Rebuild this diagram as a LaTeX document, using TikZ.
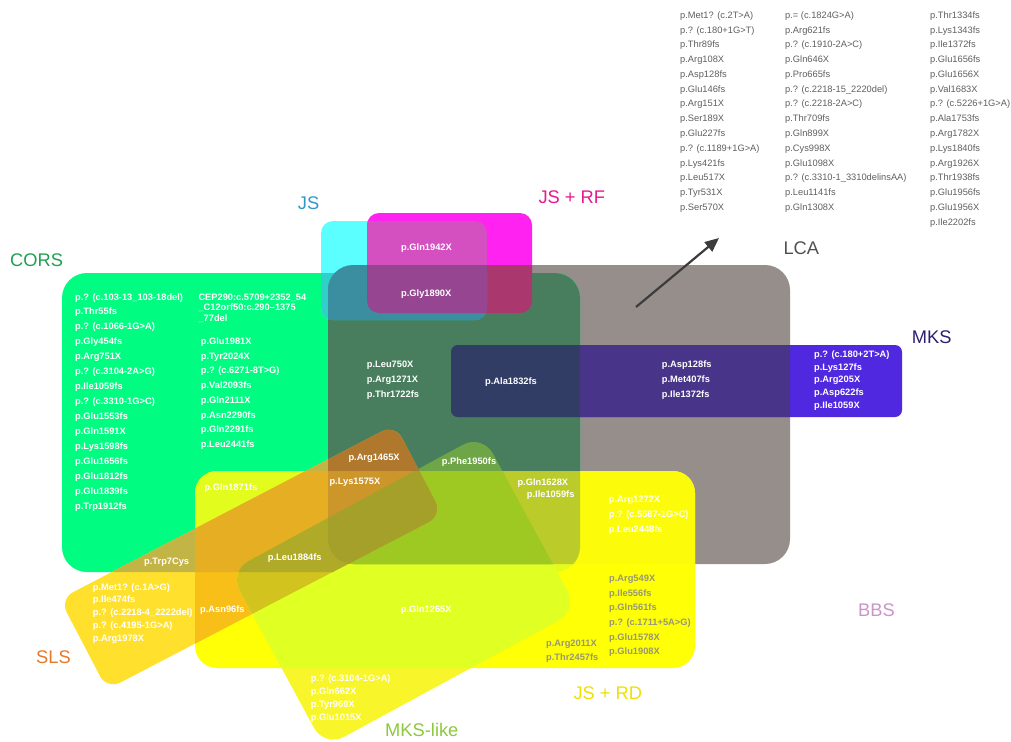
\documentclass[tikz,border=0pt]{standalone}
\usepackage{fontspec}
\setmainfont{Liberation Sans}
\usetikzlibrary{arrows.meta}
\definecolor{cG}{HTML}{00FC80}
\definecolor{cL}{HTML}{968E8B}
\definecolor{cGL}{HTML}{487E5E}
\definecolor{cC}{HTML}{5CFFFF}
\definecolor{cM}{HTML}{FF22F0}
\definecolor{cCM}{HTML}{D450C0}
\definecolor{cCG}{HTML}{30D0C8}
\definecolor{cCGL}{HTML}{3A8EA0}
\definecolor{cMGL}{HTML}{AA376E}
\definecolor{cCMGL}{HTML}{964691}
\definecolor{cK}{HTML}{5028E0}
\definecolor{cKL}{HTML}{483488}
\definecolor{cKGL}{HTML}{323D66}
\definecolor{cY}{HTML}{FFFF05}
\definecolor{cYG}{HTML}{E2FC1E}
\definecolor{cYL}{HTML}{FCFC0A}
\definecolor{cYGL}{HTML}{BACB2A}
\definecolor{cS}{HTML}{FFE12D}
\definecolor{cSG}{HTML}{C3B446}
\definecolor{cSY}{HTML}{F7BF18}
\definecolor{cSYG}{HTML}{E6AF23}
\definecolor{cSGL}{HTML}{AF782D}
\definecolor{cSYGL}{HTML}{CD962A}
\definecolor{cW}{HTML}{F8F52A}
\definecolor{cWY}{HTML}{E0FF22}
\definecolor{cWGL}{HTML}{6EA546}
\definecolor{cWYGL}{HTML}{9EC822}
\definecolor{cSWY}{HTML}{D2C31E}
\definecolor{cSWYG}{HTML}{AFAA28}
\definecolor{cSWYGL}{HTML}{A5A02A}
\definecolor{cTxt}{HTML}{5E5E5E}
\definecolor{cYTxt}{HTML}{96967A}
\definecolor{cArrow}{HTML}{3C3C3C}
\definecolor{labCORS}{HTML}{1EA050}
\definecolor{labJS}{HTML}{3296C8}
\definecolor{labJSRF}{HTML}{E6198C}
\definecolor{labLCA}{HTML}{505050}
\definecolor{labMKS}{HTML}{2A2070}
\definecolor{labBBS}{HTML}{C896C8}
\definecolor{labSLS}{HTML}{E67828}
\definecolor{labJSRD}{HTML}{F0E000}
\definecolor{labMKSL}{HTML}{8CC83C}
\def\pathG{[rounded corners=25pt] (62,273) rectangle (580,572)}
\def\pathL{[rounded corners=25pt] (328,265) rectangle (790,564)}
\def\pathC{[rounded corners=12pt] (321,221) rectangle (487,320)}
\def\pathM{[rounded corners=12pt] (367,213) rectangle (532,313)}
\def\pathK{[rounded corners=7pt] (451,345) rectangle (902,417)}
\def\pathY{[rounded corners=22pt] (195,471) rectangle (695,668)}
\def\pathS{[rounded corners=15pt] (395.0,424.5) -- (442.2,514.9) -- (107.0,689.5) -- (59.8,599.1) -- cycle}
\def\pathW{[rounded corners=22pt] (482.4,434.2) -- (577.8,610.0) -- (324.6,747.4) -- (229.2,571.5) -- cycle}
\newcommand\rgnB[3]{\begin{scope}\clip #2;\fill[#1] #3;\end{scope}}
\newcommand\rgnC[4]{\begin{scope}\clip #2;\clip #3;\fill[#1] #4;\end{scope}}
\newcommand\rgnD[5]{\begin{scope}\clip #2;\clip #3;\clip #4;\fill[#1] #5;\end{scope}}
\tikzset{
  wt/.style={anchor=base west, inner sep=0pt, text=white, font=\bfseries\fontsize{9.3}{11}\selectfont},
  gt/.style={anchor=base west, inner sep=0pt, text=cTxt, font=\fontsize{9.3}{11}\selectfont},
  yt/.style={anchor=base west, inner sep=0pt, text=cYTxt, font=\bfseries\fontsize{9.3}{11}\selectfont},
  lab/.style={anchor=base west, inner sep=0pt, font=\fontsize{18.3}{20}\selectfont},
}
\begin{document}
\begin{tikzpicture}[x=1pt,y=-1pt]
\useasboundingbox (0,0) rectangle (1011,741);
% base shapes
\fill[cL] \pathL; \fill[cG] \pathG; \fill[cC] \pathC; \fill[cM] \pathM;
\fill[cK] \pathK; \fill[cY] \pathY; \fill[cS] \pathS; \fill[cW] \pathW;
% two-fold overlaps
\rgnB{cGL}{\pathG}{\pathL}
\rgnB{cCG}{\pathG}{\pathC}
\rgnB{cCGL}{\pathL}{\pathC}
\rgnB{cCM}{\pathC}{\pathM}
\rgnB{cMGL}{\pathL}{\pathM}
\rgnB{cKL}{\pathL}{\pathK}
\rgnB{cYG}{\pathG}{\pathY}
\rgnB{cYL}{\pathL}{\pathY}
\rgnB{cSG}{\pathG}{\pathS}
\rgnB{cSY}{\pathY}{\pathS}
\rgnB{cWY}{\pathY}{\pathW}
\rgnB{cWGL}{\pathL}{\pathW}
% three-fold overlaps
\rgnC{cCGL}{\pathG}{\pathL}{\pathC}
\rgnC{cCMGL}{\pathL}{\pathC}{\pathM}
\rgnC{cKGL}{\pathG}{\pathL}{\pathK}
\rgnC{cYGL}{\pathG}{\pathL}{\pathY}
\rgnC{cSYG}{\pathG}{\pathY}{\pathS}
\rgnC{cSGL}{\pathG}{\pathL}{\pathS}
\rgnC{cWYGL}{\pathL}{\pathY}{\pathW}
\rgnC{cSWY}{\pathS}{\pathY}{\pathW}
% four/five-fold overlaps
\rgnD{cSYGL}{\pathG}{\pathL}{\pathY}{\pathS}
\rgnD{cSWYG}{\pathG}{\pathS}{\pathY}{\pathW}
\rgnD{cSWYGL}{\pathL}{\pathS}{\pathY}{\pathW}

% set labels
\node[lab, text=labCORS] (lCORS) at (10,266.4) {CORS};
\node[lab, text=labJS] (lJS) at (297.7,209.1) {JS};
\node[lab, text=labJSRF] (lJSRF) at (538.3,203.7) {JS + RF};
\node[lab, text=labLCA] (lLCA) at (783.3,254.7) {LCA};
\node[lab, text=labMKS] (lMKS) at (911.7,343.1) {MKS};
\node[lab, text=labBBS] (lBBS) at (858,616.4) {BBS};
\node[lab, text=labSLS] (lSLS) at (36,663.7) {SLS};
\node[lab, text=labJSRD] (lJSRD) at (573.3,699.7) {JS + RD};
\node[lab, text=labMKSL] (lMKSL) at (385,736.4) {MKS-like};

% top-right lists
\foreach \t [count=\i from 0] in {p.Met1? (c.2T>A), p.? (c.180+1G>T), p.Thr89fs, p.Arg108X, p.Asp128fs, p.Glu146fs, p.Arg151X, p.Ser189X, p.Glu227fs, p.? (c.1189+1G>A), p.Lys421fs, p.Leu517X, p.Tyr531X, p.Ser570X}
  \node[gt] (ta\i) at (680,18.3+\i*14.77) {\t};
\foreach \t [count=\i from 0] in {p.= (c.1824G>A), p.Arg621fs, p.? (c.1910-2A>C), p.Gln646X, p.Pro665fs, p.? (c.2218-15\_2220del), p.? (c.2218-2A>C), p.Thr709fs, p.Gln899X, p.Cys998X, p.Glu1098X, p.? (c.3310-1\_3310delinsAA), p.Leu1141fs, p.Gln1308X}
  \node[gt] (tb\i) at (785,18.3+\i*14.77) {\t};
\foreach \t [count=\i from 0] in {p.Thr1334fs, p.Lys1343fs, p.Ile1372fs, p.Glu1656fs, p.Glu1656X, p.Val1683X, p.? (c.5226+1G>A), p.Ala1753fs, p.Arg1782X, p.Lys1840fs, p.Arg1926X, p.Thr1938fs, p.Glu1956fs, p.Glu1956X, p.Ile2202fs}
  \node[gt] (tc\i) at (930,18.3+\i*14.77) {\t};

% arrow towards the LCA list
\coordinate (arrS) at (636,307);
\coordinate (arrE) at (719,238);
\draw[cArrow, line width=2.2pt, -{Triangle[length=14pt,width=12pt]}] (arrS) -- (arrE);

% CORS
\foreach \t [count=\i from 0] in {p.? (c.103-13\_103-18del), p.Thr55fs, p.? (c.1066-1G>A), p.Gly454fs, p.Arg751X, p.? (c.3104-2A>G), p.Ile1059fs, p.? (c.3310-1G>C), p.Glu1553fs, p.Gln1591X, p.Lys1598fs, p.Glu1656fs, p.Glu1812fs, p.Glu1839fs, p.Trp1912fs}
  \node[wt] (ca\i) at (75,300+\i*14.93) {\t};
\node[wt] (cep1) at (198.3,300) {CEP290:c.5709+2352\_54};
\node[wt] (cep2) at (198.3,310.6) {\_C12orf50:c.290–1375};
\node[wt] (cep3) at (198.3,321.6) {\_77del};
\foreach \t [count=\i from 0] in {p.Glu1981X, p.Tyr2024X, p.? (c.6271-8T>G), p.Val2093fs, p.Gln2111X, p.Asn2290fs, p.Gln2291fs, p.Leu2441fs}
  \node[wt] (cb\i) at (200.7,344.3+\i*14.75) {\t};

% JS / JS+RF
\node[wt] (m1) at (401,250) {p.Gln1942X};
\node[wt] (m2) at (401,296) {p.Gly1890X};

% CORS & LCA
\foreach \t [count=\i from 0] in {p.Leu750X, p.Arg1271X, p.Thr1722fs}
  \node[wt] (gl\i) at (366.7,367.6+\i*14.9) {\t};
\node[wt] (ala) at (485,384.3) {p.Ala1832fs};
\foreach \t [count=\i from 0] in {p.Asp128fs, p.Met407fs, p.Ile1372fs}
  \node[wt] (kl\i) at (661.7,367.6+\i*15) {\t};
\foreach \t [count=\i from 0] in {p.? (c.180+2T>A), p.Lys127fs, p.Arg205X, p.Asp622fs, p.Ile1059X}
  \node[wt] (k\i) at (814,357.3+\i*12.75) {\t};

% middle
\node[wt] (o1) at (348.3,460.6) {p.Arg1465X};
\node[wt] (o2) at (441.7,464.6) {p.Phe1950fs};
\node[wt] (o3) at (329.3,484.3) {p.Lys1575X};
\node[wt] (o4) at (517.3,485) {p.Gln1628X};
\node[wt] (o5) at (526.7,497.6) {p.Ile1059fs};
\foreach \t [count=\i from 0] in {p.Arg1272X, p.? (c.5587-1G>C), p.Leu2448fs}
  \node[wt] (r\i) at (608.7,502.3+\i*14.85) {\t};
\node[wt] (o6) at (204.3,490.3) {p.Gln1871fs};
\node[wt] (o7) at (144,564.3) {p.Trp7Cys};
\node[wt] (o8) at (267.7,560) {p.Leu1884fs};
\node[wt] (o9) at (200,612) {p.Asn96fs};
\node[wt] (o10) at (400.7,612) {p.Gln1265X};

% SLS
\foreach \t [count=\i from 0] in {p.Met1? (c.1A>G), p.Ile474fs, p.? (c.2218-4\_2222del), p.? (c.4195-1G>A), p.Arg1978X}
  \node[wt] (s\i) at (92.7,590+\i*12.9) {\t};
% MKS-like
\foreach \t [count=\i from 0] in {p.? (c.3104-1G>A), p.Gln662X, p.Tyr969X, p.Glu1015X}
  \node[wt] (w\i) at (310.7,681.6+\i*12.8) {\t};
% JS + RD
\foreach \t [count=\i from 0] in {p.Arg549X, p.Ile556fs, p.Gln561fs, p.? (c.1711+5A>G), p.Glu1578X, p.Glu1908X}
  \node[yt] (y\i) at (609,581.6+\i*14.6) {\t};
\node[yt] (y6) at (546,646.3) {p.Arg2011X};
\node[yt] (y7) at (546,660.3) {p.Thr2457fs};
\end{tikzpicture}
\end{document}
